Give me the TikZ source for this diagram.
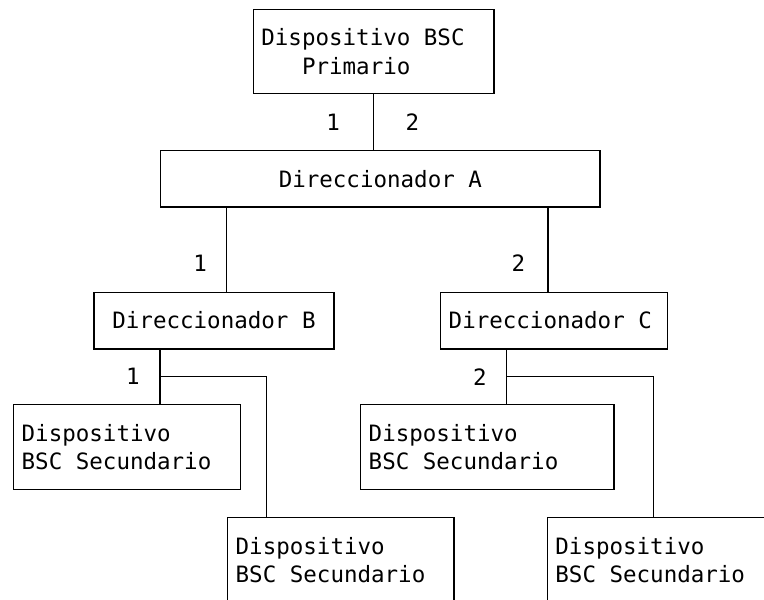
\documentclass[tikz,border=0pt]{standalone}
\usepackage{fontspec}
\setmonofont{DejaVu Sans Mono}
\usetikzlibrary{scopes}
\newcommand\dispfont{\ttfamily\fontsize{11.25}{14.25}\selectfont}
\begin{document}
\begin{tikzpicture}[x=0.5pt,y=-0.5pt,
    box/.style={draw,line width=0.7pt,anchor=north west,inner xsep=4pt,inner ysep=0pt,font=\dispfont},
    sec/.style={box,minimum height=42.5pt,align=flush left},
    dir/.style={box,minimum height=28.2pt},
    lbl/.style={font=\dispfont,inner sep=0pt},
    wire/.style={line width=0.7pt},
]
	\useasboundingbox (0,0) rectangle (764,599);
	\clip (0,0) rectangle (764,599);
	\node[box,minimum width=120.3pt,minimum height=42pt,text width=112.3pt,align=flush left] (prim) at (252.7,9) {Dispositivo BSC\\\phantom{Dis}Primario}; % primario
	{[every node/.style=dir]
	\node[minimum width=219.65pt] (dirA) at (160,150) {Direccionador A};
	\node[minimum width=120pt] (dirB) at (93.3,291.7) {Direccionador B};
	\node[minimum width=113.35pt,text width=105.35pt,align=flush left] (dirC) at (440,291.7) {Direccionador C};
	}
	{[every node/.style=sec]
	\node[minimum width=113.5pt,text width=105.5pt] (secB1) at (13,404) {Dispositivo\\BSC Secundario};
	\node[minimum width=113.15pt,text width=105.15pt] (secB2) at (227,517) {Dispositivo\\BSC Secundario};
	\node[minimum width=126.65pt,text width=118.65pt] (secC1) at (360,404) {Dispositivo\\BSC Secundario};
	\node[minimum width=113.5pt,text width=105.5pt] (secC2) at (546.7,517) {Dispositivo\\BSC Secundario};
	}
	{[wire]
	\draw (prim.south) -- node[lbl,xshift=-20.3pt]{1} node[lbl,xshift=19.4pt]{2} (prim.south |- dirA.north); % prim to A
	\draw (dirA.south west) ++(66.7,0) coordinate (aB) -- node[lbl,pos=0.66,xshift=-13.3pt]{1} (aB |- dirB.north); % A to B
	\draw (dirA.south east) ++(-52.6,0) coordinate (aC) -- node[lbl,pos=0.66,xshift=-14.85pt]{2} (aC |- dirC.north); % A to C
	\draw (dirB.south west) ++(66.7,0) coordinate (bB) -- coordinate (bM) node[lbl,xshift=-13.5pt]{1} (bB |- secB1.north); % B down
	\draw (bM) -| ([xshift=19.85pt]secB2.north west); % B branch
	\draw (dirC.south west) ++(66.7,0) coordinate (cC) -- coordinate (cM) node[lbl,xshift=-13.35pt]{2} (cC |- secC1.north); % C down
	\draw (cM) -| ([xshift=53.3pt]secC2.north west); % C branch
	}
\end{tikzpicture}
\end{document}
